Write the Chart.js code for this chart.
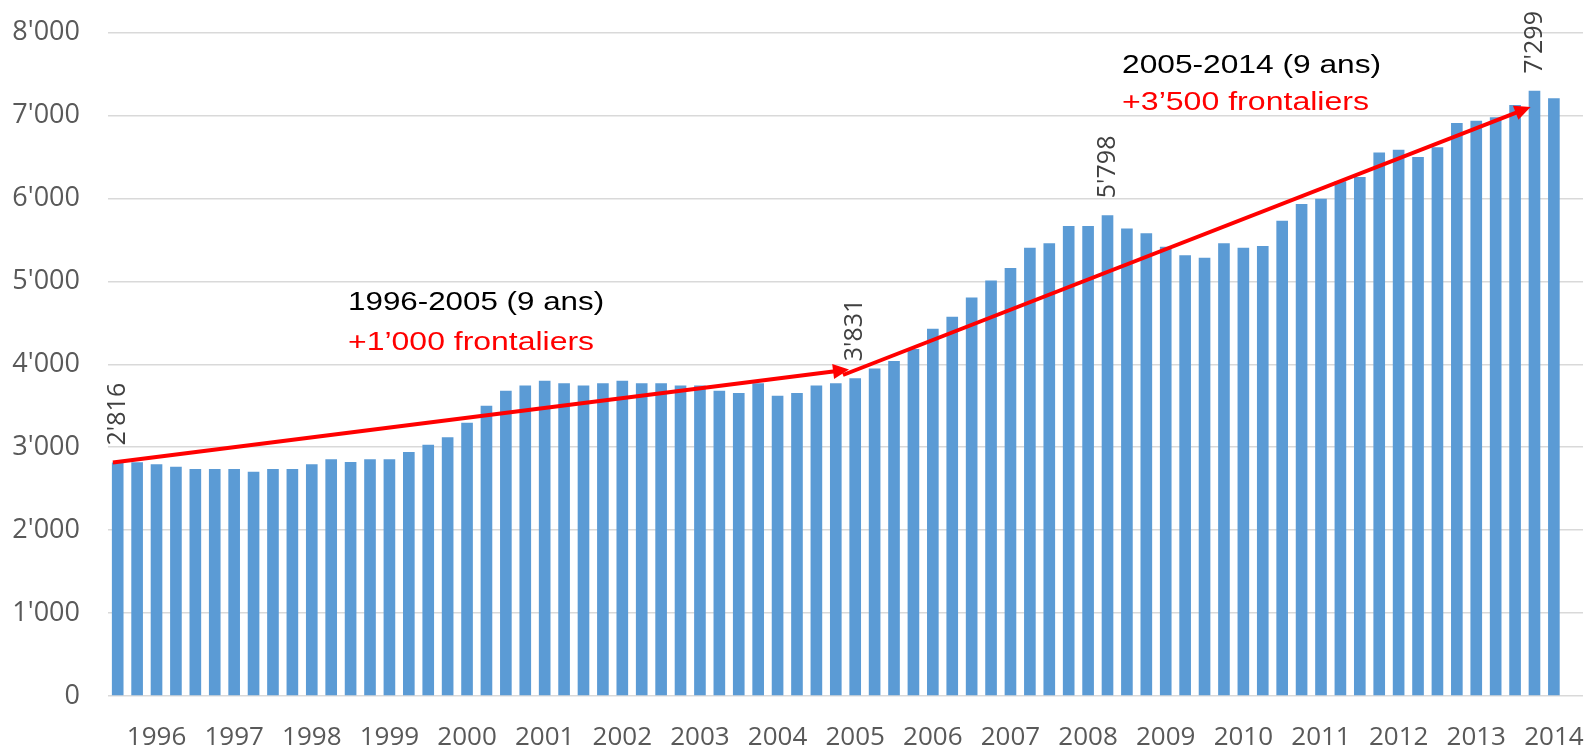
<!DOCTYPE html>
<html>
<head>
<meta charset="utf-8">
<title>Frontaliers 1996-2014</title>
<script src="https://cdn.jsdelivr.net/npm/chart.js@4.4.1/dist/chart.umd.min.js"></script>
<style>
    body { margin: 0; background: #ffffff; }
    #myChart { display: block; }
</style>
</head>
<body>
<canvas id="myChart" width="1588" height="748"></canvas>
<script>
// year shown under the 3rd bar of each group of 4 (quarterly data)
var yearLabels = ['1996', '1997', '1998', '1999', '2000', '2001', '2002', '2003', '2004', '2005',
    '2006', '2007', '2008', '2009', '2010', '2011', '2012', '2013', '2014'];

// number of frontaliers, one value per quarter (last slot is empty)
var frontaliers = [
    2816, 2820, 2795, 2766, 2738, 2738, 2738, 2705, 2738, 2738,
    2794, 2854, 2822, 2854, 2854, 2943, 3031, 3120, 3296, 3501,
    3682, 3743, 3803, 3771, 3743, 3771, 3803, 3771, 3771, 3743,
    3743, 3682, 3654, 3771, 3622, 3654, 3743, 3771, 3831, 3948,
    4040, 4185, 4428, 4573, 4807, 5011, 5160, 5404, 5459, 5668,
    5668, 5798, 5638, 5579, 5419, 5315, 5285, 5459, 5404, 5427,
    5731, 5932, 5995, 6208, 6260, 6553, 6587, 6501, 6616, 6909,
    6938, 6978, 7128, 7299, 7208, null
];

// bars that get a value label
var labelledBars = [0, 38, 51, 73];

var yMin = 0;
var yMax = 8000;
var yStep = 1000;

// categories: 76 quarters, only one label per year
var categories = [];
for (var i = 0; i < frontaliers.length; i++) {
    categories.push(i % 4 == 2 ? yearLabels[(i - 2) / 4] : '');
}

// arrows, in (category index, value) coordinates
var arrows = [
    { from: [-0.25, 2816], to: [37.68, 3937] },
    { from: [37.37, 3871], to: [72.8, 7103] }
];

// text notes, left / baseline in (category index, value) coordinates
var notes = [
    { x: 11.87, y: 4655, text: '1996-2005 (9 ans)', color: '#000000', w: 256 },
    { x: 11.87, y: 4173, text: '+1\u2019000 frontaliers', color: '#ff0000', w: 246 },
    { x: 51.75, y: 7517, text: '2005-2014 (9 ans)', color: '#000000', w: 259 },
    { x: 51.75, y: 7067, text: '+3\u2019500 frontaliers', color: '#ff0000', w: 247 }
];

function fmtNum(v) {
    return String(v).replace(/\B(?=(\d{3})+(?!\d))/g, "'");
}

function drawArrow(ctx, x1, y1, x2, y2) {
    var ang = Math.atan2(y2 - y1, x2 - x1);
    var headLen = 16;
    var headHalf = 7.5;
    // line stops at the base of the head
    var bx = x2 - Math.cos(ang) * headLen;
    var by = y2 - Math.sin(ang) * headLen;
    ctx.beginPath();
    ctx.moveTo(x1, y1);
    ctx.lineTo(bx + Math.cos(ang) * 2, by + Math.sin(ang) * 2);
    ctx.stroke();
    ctx.beginPath();
    ctx.moveTo(x2, y2);
    ctx.lineTo(bx + Math.sin(ang) * headHalf, by - Math.cos(ang) * headHalf);
    ctx.lineTo(bx - Math.sin(ang) * headHalf, by + Math.cos(ang) * headHalf);
    ctx.closePath();
    ctx.fill();
}

var annotationsPlugin = {
    id: 'annotations',
    afterDatasetsDraw: function (chart) {
        var ctx = chart.ctx;
        var xs = chart.scales.x;
        var ys = chart.scales.y;
        var meta = chart.getDatasetMeta(0);

        // value labels, rotated
        ctx.save();
        ctx.fillStyle = '#404040';
        ctx.font = '25px "Open Sans"';
        ctx.textAlign = 'left';
        ctx.textBaseline = 'middle';
        labelledBars.forEach(function (idx) {
            var bar = meta.data[idx];
            ctx.save();
            ctx.translate(bar.x, bar.y - 17);
            ctx.rotate(-Math.PI / 2);
            ctx.fillText(fmtNum(frontaliers[idx]), 0, 0);
            ctx.restore();
        });
        ctx.restore();

        // red arrows
        ctx.save();
        ctx.strokeStyle = '#ff0000';
        ctx.fillStyle = '#ff0000';
        ctx.lineWidth = 4;
        arrows.forEach(function (a) {
            drawArrow(ctx,
                xs.getPixelForValue(a.from[0]), ys.getPixelForValue(a.from[1]),
                xs.getPixelForValue(a.to[0]), ys.getPixelForValue(a.to[1]));
        });
        ctx.restore();

        // period notes (text is a bit stretched in the original)
        ctx.save();
        ctx.font = '26.5px "Liberation Sans", Arial, sans-serif';
        ctx.textAlign = 'left';
        ctx.textBaseline = 'alphabetic';
        notes.forEach(function (n) {
            var sx = n.w / ctx.measureText(n.text).width;
            ctx.save();
            ctx.translate(xs.getPixelForValue(n.x), ys.getPixelForValue(n.y));
            ctx.scale(sx, 1);
            ctx.fillStyle = n.color;
            ctx.fillText(n.text, 0, 0);
            ctx.restore();
        });
        ctx.restore();
    }
};

var ctx = document.getElementById('myChart');
var myChart = new Chart(ctx, {
    type: 'bar',
    data: {
        labels: categories,
        datasets: [{
            label: 'Frontaliers',
            data: frontaliers,
            backgroundColor: '#5b9bd5',
            borderWidth: 0,
            categoryPercentage: 1,
            barPercentage: 0.6
        }]
    },
    options: {
        responsive: false,
        animation: false,
        layout: {
            padding: { left: 0, top: 32.6, right: 5, bottom: 0 }
        },
        plugins: {
            legend: { display: false },
            tooltip: { enabled: false }
        },
        scales: {
            x: {
                grid: { display: false, drawTicks: false },
                border: { display: false },
                ticks: {
                    autoSkip: false,
                    maxRotation: 0,
                    minRotation: 0,
                    padding: 26,
                    color: '#595959',
                    font: { family: 'Open Sans', size: 26 }
                },
                afterFit: function (scale) {
                    scale.height = 52;
                    scale.paddingLeft = 0;
                    scale.paddingRight = 0;
                }
            },
            y: {
                min: yMin,
                max: yMax,
                grid: { color: '#d9d9d9', lineWidth: 1.5, drawTicks: false },
                border: { display: false },
                ticks: {
                    stepSize: yStep,
                    padding: 28,
                    color: '#595959',
                    font: { family: 'Open Sans', size: 27 },
                    callback: function (v) { return fmtNum(v); }
                },
                afterFit: function (scale) {
                    // tick padding would otherwise push the plot down
                    scale.width = 108;
                    scale.paddingTop = 0;
                    scale.paddingBottom = 0;
                }
            }
        }
    },
    plugins: [annotationsPlugin]
});
</script>
</body>
</html>
